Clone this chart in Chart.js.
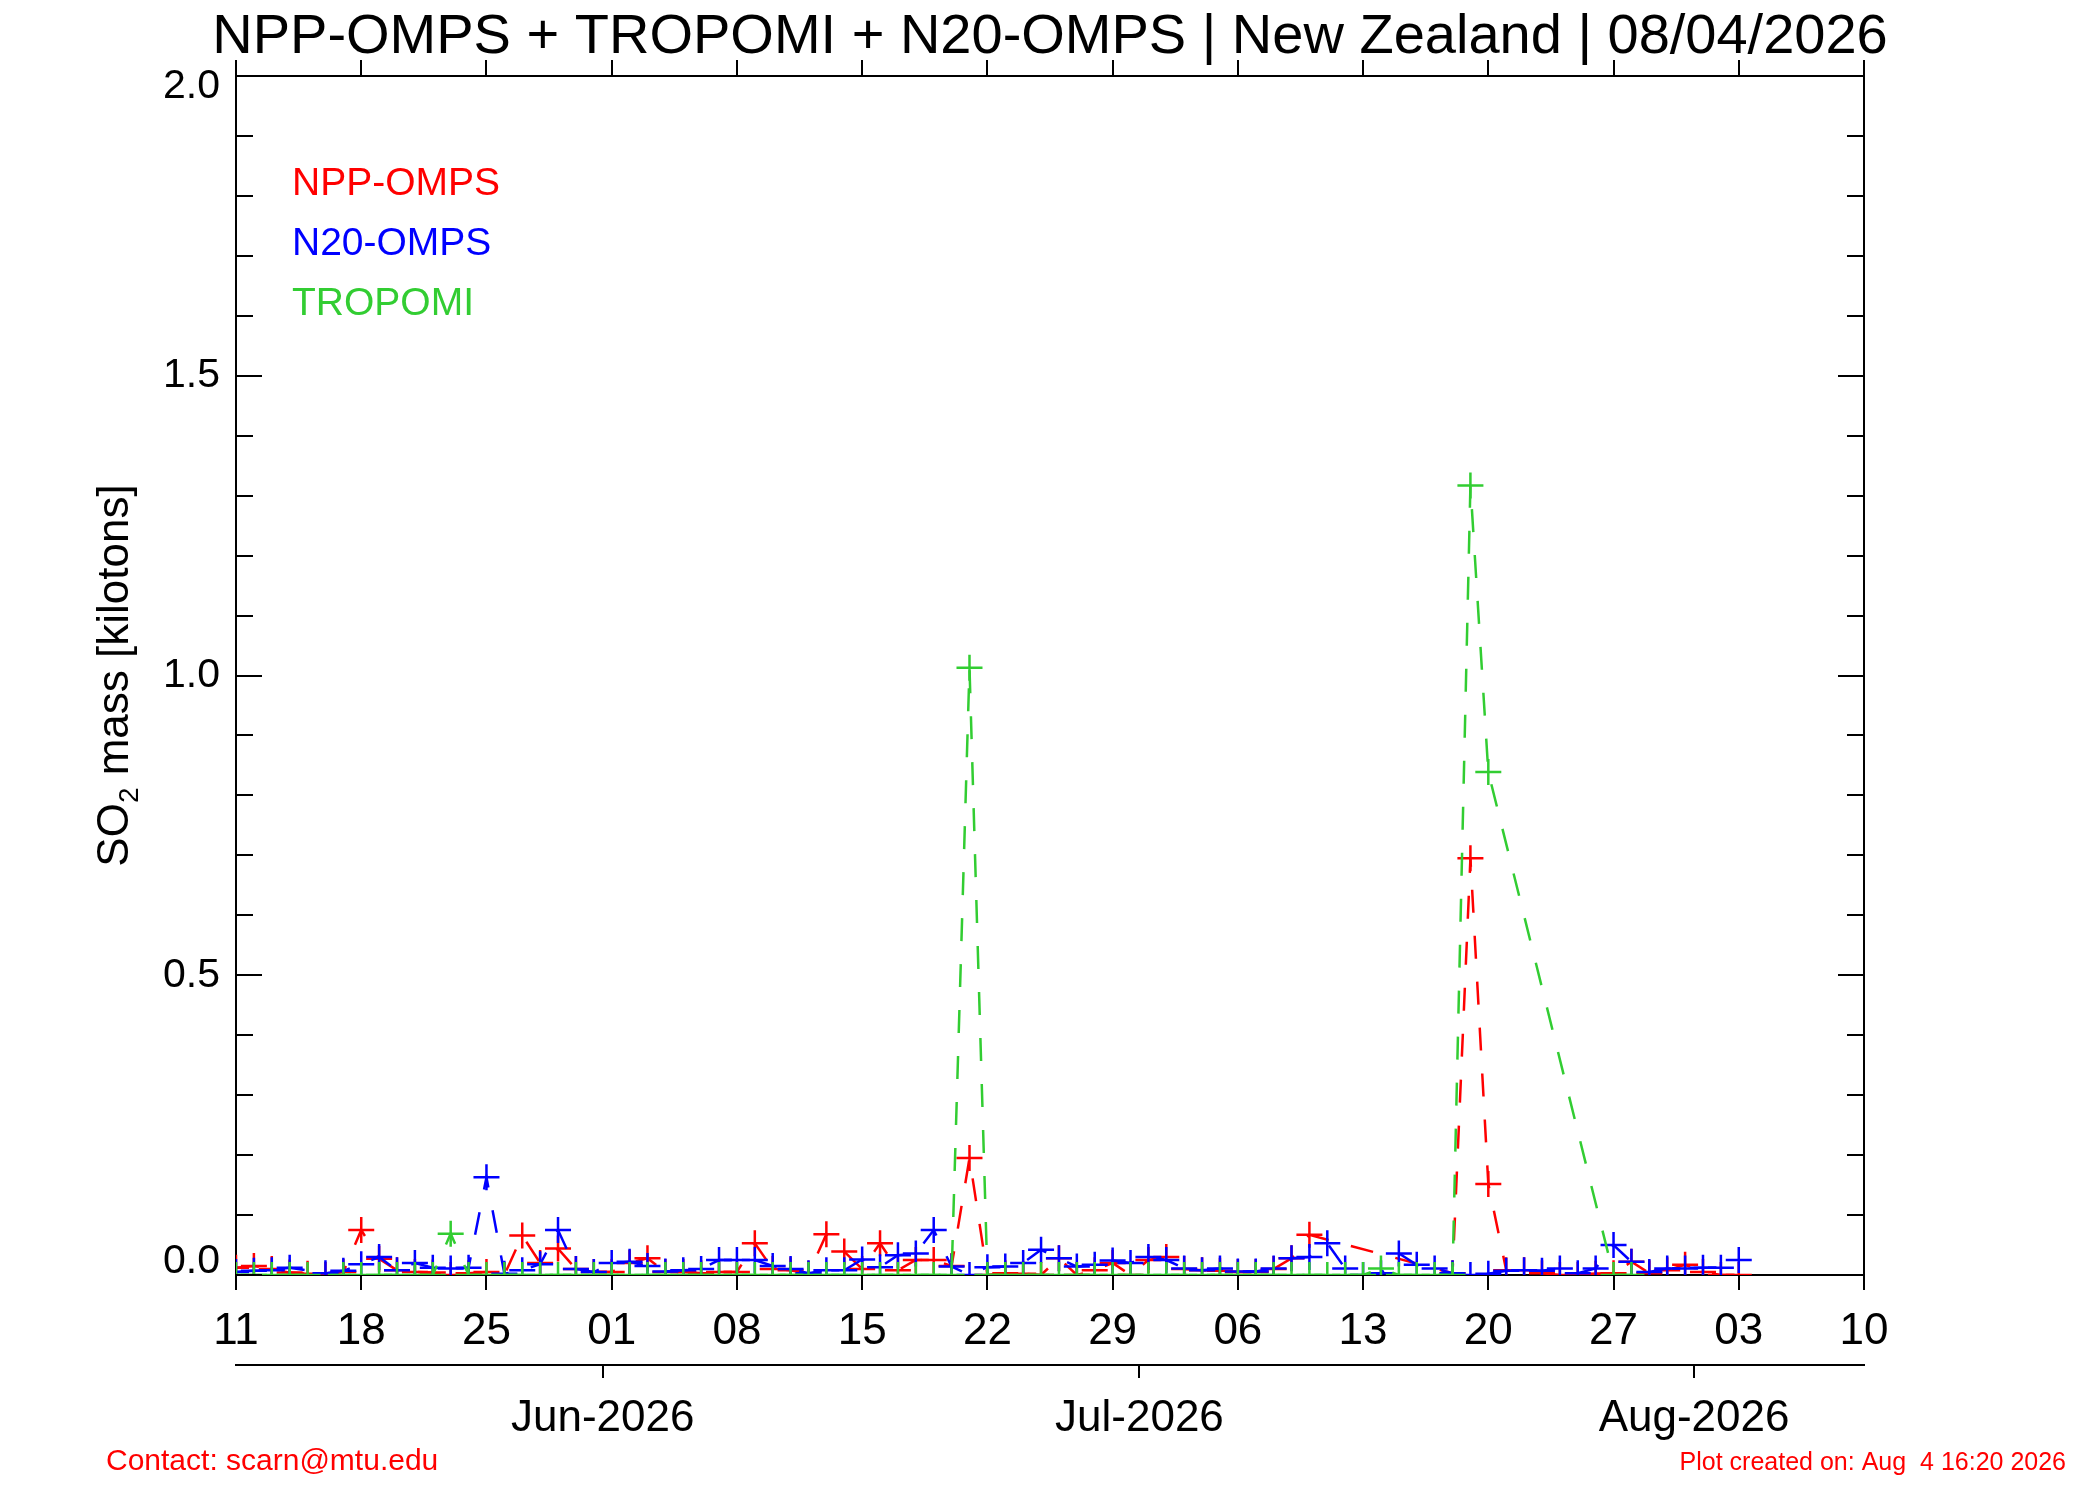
<!DOCTYPE html>
<html lang="en">
<head>
<meta charset="UTF-8">
<title>SO2 mass | New Zealand</title>
<style>
  body { margin: 0; background: #fff; }
  canvas { display: block; }
</style>
</head>
<body>
<canvas id="so2Chart" width="2100" height="1500"></canvas>
<script src="https://cdn.jsdelivr.net/npm/chart.js"></script>
<script>
// days counted from 11 May 2026 (noon)
const days = [
   0,  1,  2,  3,  4,  5,  6,  7,  8,  9, 10, 11, 12, 13, 14, 15, 16, 17, 18, 19,
  20, 21, 22, 23, 24, 25, 26, 27, 28, 29, 30, 31, 32, 33, 34, 35, 36, 37, 38, 39,
  40, 41, 42, 43, 44, 45, 46, 47, 48, 49, 50, 51, 52, 53, 54, 55, 56, 57, 58, 59,
  60, 61, 62, 63, 64, 65, 66, 67, 68, 69, 70, 71, 72, 73, 74, 75, 76, 77, 78, 79,
  80, 81, 82, 83, 84
];

// SO2 mass [kilotons], null = no retrieval that day
const nppOmps = [
  0.012, 0.015, 0.010, 0.004, 0.002, 0.000, 0.005, 0.075, 0.027, 0.008,
  0.005, 0.004, 0.000, 0.003, 0.005, 0.000, 0.066, 0.020, 0.044, 0.010,
  0.005, 0.005, 0.020, 0.028, 0.005, 0.005, 0.003, 0.005, 0.005, 0.053,
  0.010, 0.008, 0.002, 0.068, 0.039, 0.010, 0.053, 0.008, 0.025, 0.025,
  0.015, 0.195, 0.000, 0.003, 0.002, 0.000, 0.028, 0.000, 0.008, 0.020,
  0.000, 0.025, 0.030, 0.010, 0.008, 0.007, 0.005, 0.005, 0.010, 0.028,
  0.067, null,  null,  null,  null,  null,  null,  null,  0.003, 0.695,
  0.152, 0.008, 0.008, 0.003, 0.000, 0.000, 0.002, 0.003, 0.022, 0.003,
  0.008, 0.017, 0.005, 0.000, 0.000
];
const n20Omps = [
  0.005, 0.007, 0.008, 0.012, null,  0.003, 0.007, 0.018, 0.030, 0.008,
  0.020, 0.012, 0.011, 0.012, 0.163, 0.002, 0.008, 0.018, 0.075, 0.010,
  0.005, 0.020, 0.022, 0.015, 0.006, 0.008, 0.010, 0.025, 0.025, 0.025,
  0.015, 0.010, 0.003, 0.008, 0.008, 0.026, 0.013, 0.033, 0.036, 0.075,
  0.014, 0.000, 0.013, 0.014, 0.020, 0.042, 0.028, 0.014, 0.017, 0.024,
  0.020, 0.030, 0.025, 0.011, 0.008, 0.011, 0.006, 0.006, 0.011, 0.028,
  0.030, 0.053, 0.011, 0.000, 0.003, 0.036, 0.017, 0.011, 0.003, 0.000,
  0.002, 0.007, 0.008, 0.007, 0.011, 0.003, 0.011, 0.050, 0.022, 0.005,
  0.011, 0.011, 0.012, 0.012, 0.025
];
const tropomi = [
  0.000, 0.000, 0.000, 0.000, 0.000, null,  0.000, 0.000, 0.000, 0.000,
  0.000, 0.000, 0.069, 0.000, 0.000, 0.000, 0.000, 0.000, 0.000, 0.000,
  0.000, 0.000, 0.000, 0.000, 0.000, 0.000, 0.000, 0.000, 0.000, 0.000,
  0.000, 0.000, 0.000, 0.000, 0.000, 0.000, 0.000, 0.000, 0.000, 0.000,
  0.000, 1.013, 0.000, 0.000, 0.000, 0.000, 0.000, 0.000, 0.000, 0.000,
  0.000, 0.000, 0.000, 0.000, 0.000, 0.000, 0.000, 0.000, 0.000, 0.000,
  0.000, 0.000, 0.000, 0.000, 0.011, 0.000, 0.000, 0.000, 0.000, 1.317,
  0.839, null,  null,  null,  null,  null,  null,  0.000, 0.000, null,
  null,  null,  null,  null,  null
];

const dayTickLabels = ['11','18','25','01','08','15','22','29','06','13','20','27','03','10'];
// month boundaries (midnight), in days from 11 May noon
const monthTickDays = [20.5, 50.5, 81.5];
const monthTickLabels = ['Jun-2026', 'Jul-2026', 'Aug-2026'];

const RED = '#ff0000', BLUE = '#0000ff', GREEN = '#32cd32';
const FONT = '"Liberation Sans", Arial, Helvetica, sans-serif';

function pts(vals) {
  return days.map((d, i) => ({ x: d, y: vals[i] }));
}

function series(label, vals, color) {
  return {
    label: label,
    data: pts(vals),
    borderColor: color,
    backgroundColor: color,
    borderWidth: 2.5,
    borderDash: [23, 23],
    pointStyle: 'cross',
    pointRadius: 13,
    pointBorderWidth: 2.5,
    pointBorderColor: color,
    spanGaps: true,
    tension: 0,
    clip: 0
  };
}

// frame, inward ticks and all the loose text of the plot
const decorations = {
  id: 'decorations',
  afterDraw(chart) {
    const { ctx, chartArea: a, scales } = chart;
    const x = scales.x, y = scales.y;
    ctx.save();
    ctx.strokeStyle = '#000';
    ctx.lineWidth = 2;
    ctx.beginPath();
    ctx.moveTo(a.left, a.top);
    ctx.lineTo(a.right, a.top);
    ctx.lineTo(a.right, a.bottom);
    // minor ticks every 0.1, major every 0.5, both sides, inward
    for (let i = 0; i <= 20; i++) {
      const py = Math.round(y.getPixelForValue(i / 10));
      const len = (i % 5 === 0) ? 26 : 17;
      ctx.moveTo(a.left, py);  ctx.lineTo(a.left + len, py);
      ctx.moveTo(a.right, py); ctx.lineTo(a.right - len, py);
    }
    // top axis ticks, outward
    x.ticks.forEach(t => {
      const px = Math.round(x.getPixelForValue(t.value));
      ctx.moveTo(px, a.top); ctx.lineTo(px, a.top - 16);
    });
    ctx.stroke();

    // y tick labels (end labels kept inside the frame like the original)
    ctx.fillStyle = '#000';
    ctx.font = '41px ' + FONT;
    ctx.textAlign = 'right';
    ctx.textBaseline = 'middle';
    y.ticks.forEach(t => {
      let py = y.getPixelForValue(t.value);
      py = Math.min(Math.max(py, a.top + 11), a.bottom - 13);
      ctx.fillText(t.value.toFixed(1), a.left - 16, py);
    });

    // y axis title with subscript
    ctx.save();
    ctx.translate(128, (a.top + a.bottom) / 2);
    ctx.rotate(-Math.PI / 2);
    ctx.textBaseline = 'alphabetic';
    ctx.textAlign = 'left';
    const big = '44px ' + FONT, small = '28px ' + FONT;
    ctx.font = big;   const w1 = ctx.measureText('SO').width;
    ctx.font = small; const w2 = ctx.measureText('2').width;
    ctx.font = big;   const w3 = ctx.measureText(' mass [kilotons]').width;
    let sx = -(w1 + w2 + w3) / 2;
    ctx.fillText('SO', sx, 0); sx += w1;
    ctx.font = small; ctx.fillText('2', sx, 10); sx += w2;
    ctx.font = big; ctx.fillText(' mass [kilotons]', sx, 0);
    ctx.restore();

    // title
    ctx.font = '56px ' + FONT;
    ctx.textAlign = 'center';
    ctx.textBaseline = 'alphabetic';
    ctx.fillText('NPP-OMPS + TROPOMI + N20-OMPS | New Zealand | 08/04/2026', (a.left + a.right) / 2, 53);

    // series names
    ctx.textAlign = 'left';
    ctx.font = '39px ' + FONT;
    ctx.fillStyle = RED;   ctx.fillText('NPP-OMPS', 292, 195);
    ctx.fillStyle = BLUE;  ctx.fillText('N20-OMPS', 292, 255);
    ctx.fillStyle = GREEN; ctx.fillText('TROPOMI', 292, 315);

    // footer
    ctx.fillStyle = RED;
    ctx.font = '30px ' + FONT;
    ctx.fillText('Contact: scarn@mtu.edu', 106, 1470);
    ctx.textAlign = 'right';
    ctx.font = '25px ' + FONT;
    ctx.fillText('Plot created on: Aug  4 16:20 2026', 2066, 1470);
    ctx.restore();
  }
};

Chart.defaults.font.family = FONT;
Chart.defaults.color = '#000';

new Chart(document.getElementById('so2Chart'), {
  type: 'line',
  data: {
    datasets: [
      series('TROPOMI', tropomi, GREEN),
      series('N20-OMPS', n20Omps, BLUE),
      series('NPP-OMPS', nppOmps, RED)
    ]
  },
  options: {
    responsive: false,
    devicePixelRatio: 1,
    animation: false,
    layout: { padding: { top: 76, right: 236, bottom: 0, left: 0 } },
    plugins: { legend: { display: false }, tooltip: { enabled: false } },
    scales: {
      x: {
        type: 'linear', position: 'bottom', min: 0, max: 91, weight: 0,
        ticks: {
          stepSize: 7, autoSkip: false, maxRotation: 0, padding: 15,
          font: { size: 44 }, color: '#000',
          callback: (v, i) => dayTickLabels[i]
        },
        grid: { drawOnChartArea: false, drawTicks: true, tickLength: 15, color: '#000', lineWidth: 2 },
        border: { display: true, color: '#000', width: 2 },
        afterFit: s => { s.height = 90; }
      },
      x2: {
        type: 'linear', position: 'bottom', min: 0, max: 91, weight: 1,
        afterBuildTicks: s => { s.ticks = monthTickDays.map(v => ({ value: v })); },
        ticks: {
          autoSkip: false, maxRotation: 0, padding: 14,
          font: { size: 44 }, color: '#000',
          callback: (v, i) => monthTickLabels[i]
        },
        grid: { drawOnChartArea: false, drawTicks: true, tickLength: 13, color: '#000', lineWidth: 2 },
        border: { display: true, color: '#000', width: 2 },
        afterFit: s => { s.height = 135; }
      },
      y: {
        type: 'linear', position: 'left', min: 0, max: 2.0,
        ticks: { stepSize: 0.5, display: false },
        grid: { display: false, drawTicks: false },
        border: { display: true, color: '#000', width: 2 },
        afterFit: s => { s.width = 236; }
      }
    }
  },
  plugins: [decorations]
});
</script>
</body>
</html>
